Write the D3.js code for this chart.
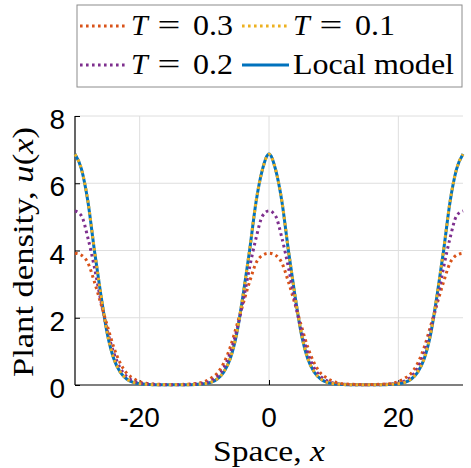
<!DOCTYPE html>
<html>
<head>
<meta charset="utf-8">
<script src="https://cdn.jsdelivr.net/npm/d3@7"></script>
<style>
  body { margin: 0; background: #fff; }
  svg { display: block; }
  .tick-label { font-family: "Liberation Sans", Arial, sans-serif; font-size: 28px; fill: #000; }
  .math { font-family: "Liberation Serif", "Times New Roman", serif; font-size: 30px; fill: #000; }
</style>
</head>
<body>
<div id="container"></div>
<script>
// sample points along space, x = -30 ... 30
const xVals = d3.range(-30, 31, 1);

// values
const localModel = [
  6.87,6.42,5.45,4.0,2.68,1.52,0.78,0.38,0.18,0.08,0.04,0.02,0.01,0.01,0.005,0.005,
  0.005,0.01,0.01,0.02,0.04,0.08,0.18,0.38,0.78,1.52,2.68,4.0,5.45,6.42,
  6.87,
  6.42,5.45,4.0,2.68,1.52,0.78,0.38,0.18,0.08,0.04,0.02,0.01,0.01,0.005,0.005,
  0.005,0.01,0.01,0.02,0.04,0.08,0.18,0.38,0.78,1.52,2.68,4.0,5.45,6.42,
  6.87
];
const t01 = [
  6.86,6.42,5.46,4.02,2.7,1.53,0.79,0.39,0.18,0.08,0.04,0.02,0.01,0.01,0.005,0.005,
  0.005,0.01,0.01,0.02,0.04,0.08,0.18,0.39,0.79,1.53,2.7,4.02,5.46,6.42,
  6.86,
  6.42,5.46,4.02,2.7,1.53,0.79,0.39,0.18,0.08,0.04,0.02,0.01,0.01,0.005,0.005,
  0.005,0.01,0.01,0.02,0.04,0.08,0.18,0.39,0.79,1.53,2.7,4.02,5.46,6.42,
  6.86
];
const t02 = [
  5.18,5.03,4.37,3.5,2.5,1.62,0.95,0.5,0.25,0.12,0.06,0.03,0.02,0.01,0.01,0.01,
  0.01,0.01,0.02,0.03,0.06,0.12,0.25,0.5,0.95,1.62,2.5,3.5,4.37,5.03,
  5.18,
  5.03,4.37,3.5,2.5,1.62,0.95,0.5,0.25,0.12,0.06,0.03,0.02,0.01,0.01,0.01,
  0.01,0.01,0.02,0.03,0.06,0.12,0.25,0.5,0.95,1.62,2.5,3.5,4.37,5.03,
  5.18
];
const t03 = [
  3.92,3.86,3.63,3.07,2.42,1.76,1.12,0.65,0.35,0.2,0.1,0.05,0.03,0.02,0.015,0.01,
  0.015,0.02,0.03,0.05,0.1,0.2,0.35,0.65,1.12,1.76,2.42,3.07,3.63,3.86,
  3.92,
  3.86,3.63,3.07,2.42,1.76,1.12,0.65,0.35,0.2,0.1,0.05,0.03,0.02,0.015,0.01,
  0.015,0.02,0.03,0.05,0.1,0.2,0.35,0.65,1.12,1.76,2.42,3.07,3.63,3.86,
  3.92
];

const xTicks = [-20, 0, 20];
const yTicks = [0, 2, 4, 6, 8];

const width = 471;
const height = 468;

const svg = d3.select("#container")
  .append("svg")
  .attr("width", width)
  .attr("height", height);

const scaleX = d3.scaleLinear().domain([-30, 30]).range([75, 463]);
const scaleY = d3.scaleLinear().domain([0, 8]).range([385, 116]);

// grid
svg.append("g")
  .selectAll("line")
  .data(xTicks)
  .enter()
  .append("line")
  .attr("x1", d => scaleX(d)).attr("x2", d => scaleX(d))
  .attr("y1", scaleY(0)).attr("y2", scaleY(8))
  .attr("stroke", "#dedede").attr("stroke-width", 1);

svg.append("g")
  .selectAll("line")
  .data(yTicks.filter(d => d > 0))
  .enter()
  .append("line")
  .attr("x1", scaleX(-30)).attr("x2", scaleX(30))
  .attr("y1", d => scaleY(d)).attr("y2", d => scaleY(d))
  .attr("stroke", "#dedede").attr("stroke-width", 1);

// axes (ticks inside)
const xAxis = d3.axisBottom(scaleX).tickValues(xTicks).tickSize(-5).tickFormat("");
svg.append("g")
  .attr("transform", "translate(0," + scaleY(0) + ")")
  .call(xAxis)
  .call(g => g.select(".domain").attr("d", "M" + scaleX(-30) + ",0H" + scaleX(30)));

const yAxis = d3.axisLeft(scaleY).tickValues(yTicks).tickSize(-5).tickFormat("");
svg.append("g")
  .attr("transform", "translate(" + scaleX(-30) + ",0)")
  .call(yAxis)
  .call(g => g.select(".domain").attr("d", "M0," + scaleY(8) + "V" + scaleY(0)));

svg.selectAll(".domain").attr("stroke", "#000").attr("stroke-width", 1.2);
svg.selectAll(".tick line").attr("stroke", "#000");

// tick labels
svg.append("g")
  .selectAll("text")
  .data(xTicks)
  .enter()
  .append("text")
  .attr("class", "tick-label")
  .attr("x", d => scaleX(d))
  .attr("y", 427)
  .attr("text-anchor", "middle")
  .text(d => d);

svg.append("g")
  .selectAll("text")
  .data(yTicks)
  .enter()
  .append("text")
  .attr("class", "tick-label")
  .attr("x", 65)
  .attr("y", d => scaleY(d) + 13)
  .attr("text-anchor", "end")
  .text(d => d);

// curves
const series = [
  { name: "Local model", values: localModel, color: "#0072BD", dash: null },
  { name: "0.3", values: t03, color: "#D95319", dash: "2.6,3.4" },
  { name: "0.2", values: t02, color: "#7E2F8E", dash: "2.6,3.4" },
  { name: "0.1", values: t01, color: "#EDB120", dash: "2.6,3.4" }
];

const line = d3.line()
  .x((d, i) => scaleX(xVals[i]))
  .y(d => scaleY(d))
  .curve(d3.curveMonotoneX);

svg.append("g")
  .selectAll("path")
  .data(series)
  .enter()
  .append("path")
  .attr("d", d => line(d.values))
  .attr("fill", "none")
  .attr("stroke", d => d.color)
  .attr("stroke-width", 3)
  .attr("stroke-dasharray", d => d.dash);

// axis titles
svg.append("text")
  .attr("class", "math")
  .attr("x", 213)
  .attr("y", 461)
  .attr("textLength", 112)
  .attr("lengthAdjust", "spacingAndGlyphs")
  .call(t => {
    t.append("tspan").text("Space, ");
    t.append("tspan").attr("font-style", "italic").text("x");
  });

svg.append("text")
  .attr("class", "math")
  .attr("transform", "translate(33,377) rotate(-90)")
  .attr("textLength", 250)
  .attr("lengthAdjust", "spacingAndGlyphs")
  .call(t => {
    t.append("tspan").text("Plant density, ");
    t.append("tspan").attr("font-style", "italic").text("u");
    t.append("tspan").text("(");
    t.append("tspan").attr("font-style", "italic").text("x");
    t.append("tspan").text(")");
  });

// legend
const legend = svg.append("g").attr("id", "legend");
legend.append("rect")
  .attr("x", 77).attr("y", 5)
  .attr("width", 385).attr("height", 82)
  .attr("fill", "#fff")
  .attr("stroke", "#8c8c8c").attr("stroke-width", 1);

const legendItems = [
  { s: series[1], x: 80, y: 26, label: "0.3" },
  { s: series[3], x: 242, y: 26, label: "0.1" },
  { s: series[2], x: 80, y: 65, label: "0.2" },
  { s: series[0], x: 242, y: 65, label: null }
];

legendItems.forEach(item => {
  legend.append("line")
    .attr("x1", item.x).attr("x2", item.x + 47)
    .attr("y1", item.y).attr("y2", item.y)
    .attr("stroke", item.s.color)
    .attr("stroke-width", 3)
    .attr("stroke-dasharray", item.s.dash);
  const by = item.y + 9;
  if (item.label) {
    legend.append("text").attr("class", "math")
      .attr("x", item.x + 51).attr("y", by)
      .attr("font-style", "italic").text("T");
    legend.append("text").attr("class", "math")
      .attr("x", item.x + 89).attr("y", by)
      .attr("text-anchor", "middle")
      .attr("transform", "translate(" + (item.x + 89) + "," + by + ") scale(1.35,1) translate(" + -(item.x + 89) + "," + -by + ")")
      .text("=");
    legend.append("text").attr("class", "math")
      .attr("x", item.x + 113).attr("y", by)
      .attr("textLength", 40)
      .attr("lengthAdjust", "spacingAndGlyphs")
      .text(item.label);
  } else {
    legend.append("text").attr("class", "math")
      .attr("x", item.x + 51).attr("y", by)
      .attr("textLength", 161)
      .attr("lengthAdjust", "spacingAndGlyphs")
      .text("Local model");
  }
});
</script>
</body>
</html>
